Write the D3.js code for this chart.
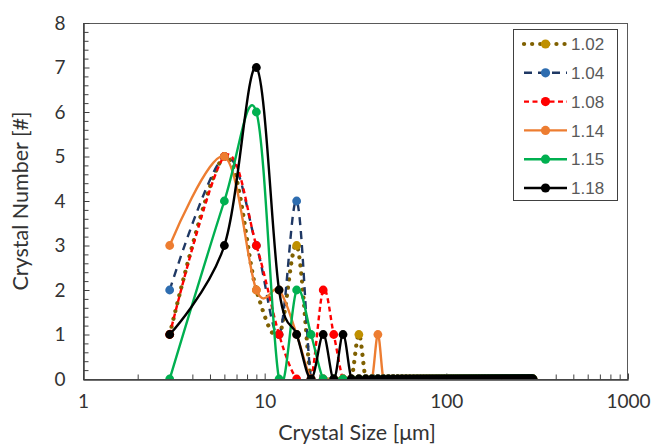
<!DOCTYPE html>
<html><head><meta charset="utf-8">
<script src="https://cdn.jsdelivr.net/npm/d3@7"></script>
<style>body{margin:0;background:#fff}</style>
</head><body><svg id="c" width="654" height="444"></svg>
<script>
// Crystal sizes (µm), bins of 3 µm
const sizes = [
 3,6,9,12,15,18,21,24,27,30, 33,36,39,42,45,48,51,54,57,60,
 63,66,69,72,75,78,81,84,87,90, 93,96,99,102,105,108,111,114,117,120,
 123,126,129,132,135,138,141,144,147,150, 153,156,159,162,165,168,171,174,177,180,
 183,186,189,192,195,198,201,204,207,210, 213,216,219,222,225,228,231,234,237,240,
 243,246,249,252,255,258,261,264,267,270, 273,276,279,282,285,288,291,294,297,300];

const s102 = [
 1,5,2,1,3,0,0,0,0,0, 1,0,0,0,0,0,0,0,0,0,
 0,0,0,0,0,0,0,0,0,0, 0,0,0,0,0,0,0,0,0,0,
 0,0,0,0,0,0,0,0,0,0, 0,0,0,0,0,0,0,0,0,0,
 0,0,0,0,0,0,0,0,0,0, 0,0,0,0,0,0,0,0,0,0,
 0,0,0,0,0,0,0,0,0,0, 0,0,0,0,0,0,0,0,0,0];
const s104 = [
 2,5,3,1,4,0,0,0,0,0, 0,0,0,0,0,0,0,0,0,0,
 0,0,0,0,0,0,0,0,0,0, 0,0,0,0,0,0,0,0,0,0,
 0,0,0,0,0,0,0,0,0,0, 0,0,0,0,0,0,0,0,0,0,
 0,0,0,0,0,0,0,0,0,0, 0,0,0,0,0,0,0,0,0,0,
 0,0,0,0,0,0,0,0,0,0, 0,0,0,0,0,0,0,0,0,0];
const s108 = [
 1,5,3,1,0,0,2,1,0,0, 0,0,0,0,0,0,0,0,0,0,
 0,0,0,0,0,0,0,0,0,0, 0,0,0,0,0,0,0,0,0,0,
 0,0,0,0,0,0,0,0,0,0, 0,0,0,0,0,0,0,0,0,0,
 0,0,0,0,0,0,0,0,0,0, 0,0,0,0,0,0,0,0,0,0,
 0,0,0,0,0,0,0,0,0,0, 0,0,0,0,0,0,0,0,0,0];
const s114 = [
 3,5,2,2,1,0,0,0,0,0, 0,0,0,1,0,0,0,0,0,0,
 0,0,0,0,0,0,0,0,0,0, 0,0,0,0,0,0,0,0,0,0,
 0,0,0,0,0,0,0,0,0,0, 0,0,0,0,0,0,0,0,0,0,
 0,0,0,0,0,0,0,0,0,0, 0,0,0,0,0,0,0,0,0,0,
 0,0,0,0,0,0,0,0,0,0, 0,0,0,0,0,0,0,0,0,0];
const s115 = [
 0,4,6,0,2,1,0,0,0,0, 0,0,0,0,0,0,0,0,0,0,
 0,0,0,0,0,0,0,0,0,0, 0,0,0,0,0,0,0,0,0,0,
 0,0,0,0,0,0,0,0,0,0, 0,0,0,0,0,0,0,0,0,0,
 0,0,0,0,0,0,0,0,0,0, 0,0,0,0,0,0,0,0,0,0,
 0,0,0,0,0,0,0,0,0,0, 0,0,0,0,0,0,0,0,0,0];
const s118 = [
 1,3,7,2,1,0,1,0,1,0, 0,0,0,0,0,0,0,0,0,0,
 0,0,0,0,0,0,0,0,0,0, 0,0,0,0,0,0,0,0,0,0,
 0,0,0,0,0,0,0,0,0,0, 0,0,0,0,0,0,0,0,0,0,
 0,0,0,0,0,0,0,0,0,0, 0,0,0,0,0,0,0,0,0,0,
 0,0,0,0,0,0,0,0,0,0, 0,0,0,0,0,0,0,0,0,0];

const seriesNames = ["1.02","1.04","1.08","1.14","1.15","1.18"];
const seriesValues = [s102, s104, s108, s114, s115, s118];
const xTickValues = [1, 10, 100, 1000];
const yTickValues = [0, 1, 2, 3, 4, 5, 6, 7, 8];
const xTitle = "Crystal Size [μm]";
const yTitle = "Crystal Number [#]";

// styles
const styles = [
  {line:"#7F6000", marker:"#BF9000", dash:"0.1,8", width:4.2, cap:"round"},
  {line:"#1F3864", marker:"#2E6DB0", dash:"8,6", width:2.4, cap:"butt"},
  {line:"#FF0000", marker:"#FF0000", dash:"5,3.5", width:2.4, cap:"butt"},
  {line:"#ED7D31", marker:"#ED7D31", dash:null, width:2.4, cap:"butt"},
  {line:"#00B050", marker:"#00B050", dash:null, width:2.4, cap:"butt"},
  {line:"#000000", marker:"#000000", dash:null, width:2.4, cap:"butt"}
];

const L=83, T=23, R=628, B=379;
const x = d3.scaleLog().domain([1,1000]).range([L,R]);
const y = d3.scaleLinear().domain([0,8]).range([B,T]);
const svg = d3.select("#c");
const axisColor = "#404040";
const tickFont = "Lato, 'Open Sans', sans-serif";

svg.append("defs").append("clipPath").attr("id","clip")
  .append("rect").attr("x",L).attr("y",T).attr("width",R-L).attr("height",B-T);

// plot border
svg.append("rect").attr("x",L+0.5).attr("y",T+0.5).attr("width",R-L-1).attr("height",B-T)
  .attr("fill","none").attr("stroke","#595959").attr("stroke-width",1);

// minor ticks
const xMinor = [];
[1,10,100].forEach(d => { for (let k=2;k<=9;k++) xMinor.push(d*k); });
const yMinor = d3.range(0, 8.001, 0.2).filter(v => Math.abs(v-Math.round(v))>1e-6);

const gx = svg.append("g").attr("transform",`translate(0,${B+0.5})`);
gx.call(d3.axisBottom(x).tickValues(xMinor).tickSizeInner(-5).tickSizeOuter(0).tickFormat(""));
const gx2 = svg.append("g").attr("transform",`translate(0,${B+0.5})`);
gx2.call(d3.axisBottom(x).tickValues(xTickValues).tickSizeInner(-6).tickSizeOuter(0)
  .tickPadding(15).tickFormat(d3.format("d")));

const gy = svg.append("g").attr("transform",`translate(${L+0.5},0)`);
gy.call(d3.axisLeft(y).tickValues(yMinor).tickSizeInner(-5).tickSizeOuter(0).tickFormat(""));
const gy2 = svg.append("g").attr("transform",`translate(${L+0.5},0)`);
gy2.call(d3.axisLeft(y).tickValues(yTickValues).tickSizeInner(-6).tickSizeOuter(0)
  .tickPadding(18).tickFormat(d3.format("d")));

[gx,gx2,gy,gy2].forEach(g => {
  g.selectAll(".domain").attr("stroke",axisColor);
  g.selectAll(".tick line").attr("stroke",axisColor);
  g.selectAll("text").attr("font-family",tickFont).attr("font-size",19).attr("fill","#333");
});

// axis titles
svg.append("text").attr("x",357).attr("y",440).attr("text-anchor","middle")
  .attr("font-family",tickFont).attr("font-size",21.5).attr("fill","#333").text(xTitle);
svg.append("text").attr("transform",`translate(28,${(T+B)/2}) rotate(-90)`).attr("text-anchor","middle")
  .attr("font-family",tickFont).attr("font-size",21.5).attr("fill","#333").text(yTitle);

// series
const line = d3.line().x(d=>x(d[0])).y(d=>y(d[1])).curve(d3.curveCardinal.tension(0));
const plot = svg.append("g").attr("clip-path","url(#clip)");
seriesValues.forEach((vals,i) => {
  const st = styles[i];
  const pts = sizes.map((s,j)=>[s, vals[j]]);
  const g = plot.append("g");
  g.append("path").attr("d", line(pts)).attr("fill","none").attr("stroke",st.line)
    .attr("stroke-width",st.width).attr("stroke-dasharray",st.dash).attr("stroke-linecap",st.cap);
  g.selectAll("circle").data(pts).join("circle")
    .attr("cx",d=>x(d[0])).attr("cy",d=>y(d[1])).attr("r",4.4).attr("fill",st.marker);
});

// legend
const lg = svg.append("g");
lg.append("rect").attr("x",513.5).attr("y",29.5).attr("width",104).attr("height",171)
  .attr("fill","#fff").attr("stroke","#404040").attr("stroke-width",1);
seriesNames.forEach((name,i) => {
  const st = styles[i];
  const yy = 44 + i*28.8;
  lg.append("line").attr("x1",524).attr("x2",567).attr("y1",yy).attr("y2",yy)
    .attr("stroke",st.line).attr("stroke-width",st.width).attr("stroke-dasharray",st.dash)
    .attr("stroke-linecap",st.cap);
  lg.append("circle").attr("cx",545.5).attr("cy",yy).attr("r",4.6).attr("fill",st.marker);
  lg.append("text").attr("x",571).attr("y",yy).attr("dy","0.36em")
    .attr("font-family","'Liberation Sans', Arial, sans-serif").attr("font-size",17)
    .attr("fill","#595959").text(name);
});
</script></body></html>
